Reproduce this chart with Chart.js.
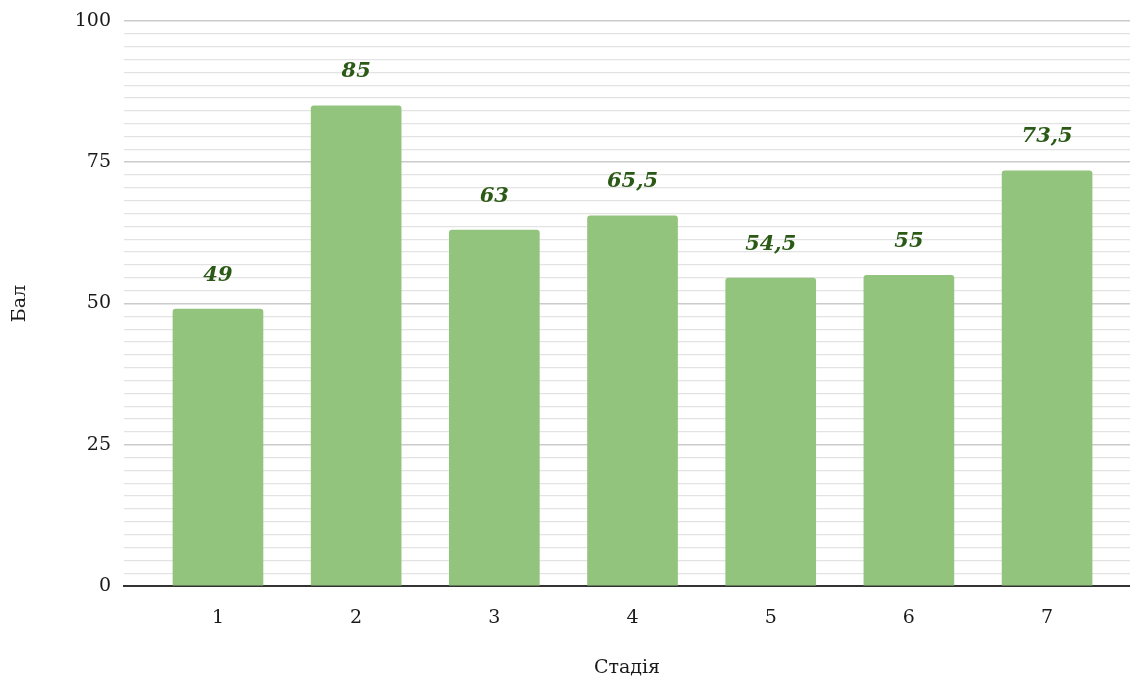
<!DOCTYPE html>
<html>
<head>
<meta charset="utf-8">
<script src="https://cdn.jsdelivr.net/npm/chart.js@4.4.1/dist/chart.umd.min.js"></script>
<style>
  html, body { margin: 0; padding: 0; background: #ffffff; }
  #wrap { width: 1130px; height: 680px; position: relative; }
</style>
</head>
<body>
<div id="wrap"><canvas id="chart" width="1130" height="680"></canvas></div>
<script>
// Stages and their scores
const categories = ['1', '2', '3', '4', '5', '6', '7'];
const scores = [49, 85, 63, 65.5, 54.5, 55, 73.5];
const yTickLabels = ['0', '25', '50', '75', '100'];
const xTitle = 'Стадія';
const yTitle = 'Бал';

const MAJOR = 25;           // labelled gridline step
const MINOR_PER_MAJOR = 11; // light subdivisions between labelled lines

const serif = "'DejaVu Serif', 'Liberation Serif', serif";

// Score labels above each bar, written with a decimal comma
const valueLabels = {
  id: 'valueLabels',
  afterDatasetsDraw(chart) {
    const meta = chart.getDatasetMeta(0);
    const ctx = chart.ctx;
    ctx.save();
    ctx.font = "italic bold 21px " + serif;
    ctx.fillStyle = '#2b5a16';
    ctx.textAlign = 'center';
    ctx.textBaseline = 'middle';
    meta.data.forEach((bar, i) => {
      const txt = String(scores[i]).replace('.', ',');
      ctx.fillText(txt, bar.x, bar.y - 34);
    });
    ctx.restore();
  }
};

new Chart(document.getElementById('chart'), {
  type: 'bar',
  data: {
    datasets: [{
      data: scores.map((v, i) => ({ x: i + 1, y: v })),
      backgroundColor: '#93c47d',
      borderRadius: { topLeft: 3, topRight: 3, bottomLeft: 0, bottomRight: 0 },
      borderSkipped: 'bottom',
      barThickness: 90
    }]
  },
  options: {
    responsive: false,
    animation: false,
    layout: { padding: { top: 21, right: 0, bottom: 0, left: 0 } },
    plugins: {
      legend: { display: false },
      tooltip: { enabled: false }
    },
    scales: {
      x: {
        type: 'linear',
        offset: false,
        min: 0.32,
        max: 7.6,
        grid: { display: false },
        border: { display: true, color: '#333333', width: 2 },
        afterBuildTicks(scale) {
          scale.ticks = categories.map((c, i) => ({ value: i + 1 }));
        },
        afterFit(scale) {
          scale.height = 94;
          scale.paddingLeft = 0;
          scale.paddingRight = 0;
        },
        ticks: {
          color: '#1a1a1a',
          font: { family: serif, size: 19 },
          padding: 13,
          maxRotation: 0,
          callback: (v) => categories[Math.round(v) - 1]
        },
        title: {
          display: true,
          text: xTitle,
          color: '#1a1a1a',
          font: { family: serif, size: 19 },
          padding: { top: 0, bottom: 1 }
        }
      },
      y: {
        min: 0,
        max: 100,
        afterBuildTicks(scale) {
          const ticks = [];
          const n = (yTickLabels.length - 1) * MINOR_PER_MAJOR;
          for (let i = 0; i <= n; i++) {
            ticks.push({ value: i * MAJOR / MINOR_PER_MAJOR, major: i % MINOR_PER_MAJOR === 0 });
          }
          scale.ticks = ticks;
        },
        afterFit(scale) {
          scale.width = 124;
          scale.paddingTop = 0;
          scale.paddingBottom = 0;
        },
        border: { display: false },
        grid: {
          drawTicks: false,
          color: (ctx) => (ctx.tick && ctx.tick.major) ? '#cbcbcb' : '#e3e3e3',
          lineWidth: (ctx) => (ctx.tick && ctx.tick.major) ? 1.6 : 1.3
        },
        ticks: {
          color: '#1a1a1a',
          font: { family: serif, size: 19 },
          padding: 13,
          autoSkip: false,
          callback: function (v, i) {
            return i % MINOR_PER_MAJOR === 0 ? yTickLabels[i / MINOR_PER_MAJOR] : '';
          }
        },
        title: {
          display: true,
          text: yTitle,
          color: '#1a1a1a',
          font: { family: serif, size: 19 },
          padding: { top: 9, bottom: 0 }
        }
      }
    }
  },
  plugins: [valueLabels]
});
</script>
</body>
</html>
